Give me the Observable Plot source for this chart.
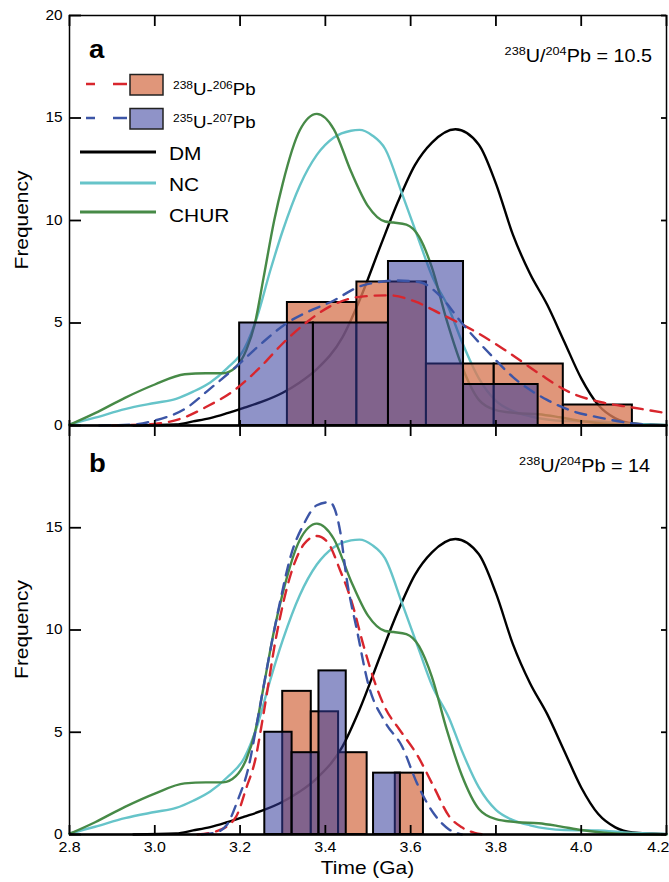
<!DOCTYPE html>
<html><head><meta charset="utf-8">
<script src="https://cdn.jsdelivr.net/npm/d3@7"></script>
<script src="https://cdn.jsdelivr.net/npm/@observablehq/plot@0.6"></script>
<style>
body{margin:0;background:#fff;}
#chart svg{display:block;}
</style></head><body><div id="chart"></div>
<script>
// ---------- data ----------
const xTicks = [2.8, 3.0, 3.2, 3.4, 3.6, 3.8, 4.0, 4.2];
const yTicksA = [0, 5, 10, 15, 20];
const yTicksB = [0, 5, 10, 15];

// model curves (identical in both panels)
const dmTime = [2.95, 3.05, 3.09, 3.13, 3.17, 3.21, 3.25, 3.30, 3.34, 3.38, 3.44, 3.48, 3.53, 3.57, 3.61, 3.65, 3.705, 3.76, 3.80, 3.84, 3.88, 3.92, 3.96, 4.00, 4.04, 4.08, 4.12, 4.20];
const dmFreq = [0, 0.05, 0.2, 0.36, 0.6, 0.87, 1.15, 1.6, 2.1, 2.75, 4.3, 6.1, 8.8, 10.9, 12.7, 13.8, 14.45, 13.7, 11.8, 9.3, 7.4, 5.9, 4.1, 2.3, 1.0, 0.35, 0.1, 0.02];

const ncTime = [2.80, 2.86, 2.93, 3.00, 3.05, 3.09, 3.13, 3.17, 3.21, 3.24, 3.27, 3.30, 3.34, 3.38, 3.42, 3.46, 3.48, 3.51, 3.54, 3.58, 3.62, 3.65, 3.69, 3.72, 3.76, 3.80, 3.84, 3.88, 3.96, 4.04, 4.10, 4.20];
const ncFreq = [0.05, 0.38, 0.8, 1.1, 1.3, 1.65, 2.1, 2.8, 3.75, 5.3, 7.5, 9.5, 11.7, 13.2, 14.05, 14.38, 14.42, 14.15, 13.5, 11.3, 9.0, 7.3, 5.7, 4.1, 2.3, 1.2, 0.7, 0.45, 0.22, 0.2, 0.1, 0.03];

const churTime = [2.80, 2.86, 2.93, 3.00, 3.07, 3.12, 3.16, 3.19, 3.215, 3.235, 3.255, 3.28, 3.30, 3.34, 3.38, 3.42, 3.46, 3.50, 3.54, 3.56, 3.59, 3.62, 3.65, 3.685, 3.72, 3.76, 3.80, 3.85, 3.90, 3.95, 4.00, 4.08, 4.20];
const churFreq = [0.03, 0.6, 1.35, 2.0, 2.5, 2.55, 2.55, 2.85, 3.7, 5.0, 7.2, 10.0, 11.8, 14.4, 15.2, 14.45, 12.4, 10.7, 9.95, 9.9, 9.8, 9.2, 7.7, 5.1, 2.9, 1.25, 0.75, 0.6, 0.55, 0.4, 0.22, 0.05, 0];

// panel a: 238U/204Pb = 10.5
const u238TimeA = [2.90, 3.00, 3.07, 3.12, 3.185, 3.25, 3.30, 3.36, 3.41, 3.49, 3.55, 3.61, 3.67, 3.75, 3.82, 3.90, 3.97, 4.05, 4.12, 4.20];
const u238FreqA = [0, 0.08, 0.4, 0.9, 1.7, 2.9, 4.0, 5.1, 5.8, 6.3, 6.35, 6.05, 5.45, 4.6, 3.7, 2.55, 1.65, 1.12, 0.88, 0.6];
const u235TimeA = [2.87, 2.95, 3.00, 3.07, 3.13, 3.185, 3.25, 3.31, 3.37, 3.41, 3.49, 3.57, 3.62, 3.67, 3.72, 3.79, 3.84, 3.92, 3.98, 4.04, 4.12, 4.20];
const u235FreqA = [0, 0.05, 0.24, 0.8, 1.8, 2.76, 4.0, 5.0, 5.65, 6.0, 6.85, 7.07, 7.0, 6.3, 5.0, 3.4, 2.36, 1.25, 0.7, 0.4, 0.1, 0];
const u238EdgesA = [3.311, 3.474, 3.637, 3.796, 3.958, 4.120];
const u238CountsA = [6, 7, 3, 3, 1];
const u235EdgesA = [3.199, 3.372, 3.548, 3.724, 3.899];
const u235CountsA = [5, 5, 8, 2];

// panel b: 238U/204Pb = 14
const u238TimeB = [3.10, 3.15, 3.19, 3.215, 3.235, 3.255, 3.285, 3.32, 3.35, 3.38, 3.405, 3.435, 3.46, 3.49, 3.515, 3.54, 3.575, 3.615, 3.655, 3.69, 3.72, 3.75, 3.77];
const u238FreqB = [0, 0.2, 0.85, 2.3, 3.6, 5.9, 9.7, 12.8, 14.2, 14.6, 14.3, 12.9, 11.5, 9.2, 7.5, 6.2, 5.1, 3.9, 2.3, 0.9, 0.35, 0.08, 0];
const u235TimeB = [3.11, 3.15, 3.17, 3.195, 3.22, 3.24, 3.26, 3.29, 3.32, 3.35, 3.38, 3.41, 3.435, 3.45, 3.475, 3.50, 3.54, 3.58, 3.615, 3.655, 3.69, 3.72];
const u235FreqB = [0, 0.15, 0.5, 1.7, 3.3, 5.5, 7.8, 11.0, 13.7, 15.2, 16.1, 16.25, 14.8, 12.5, 9.9, 7.4, 5.5, 4.3, 2.5, 1.0, 0.25, 0];
const u238EdgesB = [3.300, 3.367, 3.431, 3.498, 3.564, 3.630];
const u238CountsB = [7, 6, 4, 0, 3];
const u235EdgesB = [3.258, 3.322, 3.385, 3.449, 3.513, 3.576];
const u235CountsB = [5, 4, 8, 0, 3];

// ---------- styling ----------
const C = {dm: "#000000", nc: "#66C4C9", chur: "#478A47", red: "#D8262D", blue: "#3C55A6",
           orange: "#D87C59", violet: "#333B9B"};
const FONT = '"Liberation Sans", Arial, Helvetica, sans-serif';
const W = 669, ML = 69, MR = 3, FW = W - ML - MR;

const rows = (t, f) => t.map((d, i) => ({t: d, f: f[i]}));
const bins = (e, c) => c.map((v, i) => ({x1: e[i], x2: e[i + 1], y1: 0, y2: v})).filter(d => d.y2 > 0);

function panelMarks(redT, redF, blueT, blueF, oE, oC, bE, bC) {
  const solid = {x: "t", y: "f", strokeWidth: 2.4, curve: "monotone-x"};
  const dashed = {x: "t", y: "f", strokeWidth: 2.4, curve: "monotone-x", strokeDasharray: "11,8"};
  return [
    Plot.line(rows(dmTime, dmFreq), {...solid, stroke: C.dm}),
    Plot.line(rows(ncTime, ncFreq), {...solid, stroke: C.nc}),
    Plot.line(rows(churTime, churFreq), {...solid, stroke: C.chur}),
    Plot.rect(bins(oE, oC), {x1: "x1", x2: "x2", y1: "y1", y2: "y2", fill: C.orange, fillOpacity: 0.8, stroke: "black", strokeWidth: 2}),
    Plot.rect(bins(bE, bC), {x1: "x1", x2: "x2", y1: "y1", y2: "y2", fill: C.violet, fillOpacity: 0.55, stroke: "black", strokeWidth: 2}),
    Plot.line(rows(redT, redF), {...dashed, stroke: C.red}),
    Plot.line(rows(blueT, blueF), {...dashed, stroke: C.blue})
  ];
}

function tickMarks(plotH, yTicks, topLen, botLen, xLabels) {
  const m = [
    Plot.tickY(yTicks, {y: d => d, insetRight: FW - 12, stroke: "black", strokeWidth: 1.8}),
    Plot.tickY(yTicks, {y: d => d, insetLeft: FW - 5, stroke: "black", strokeWidth: 1.8}),
    Plot.tickX(xTicks, {x: d => d, insetBottom: plotH - topLen, stroke: "black", strokeWidth: 1.8}),
    Plot.tickX(xTicks, {x: d => d, insetTop: plotH - botLen, stroke: "black", strokeWidth: 1.8}),
    Plot.text(yTicks, {y: d => d, frameAnchor: "left", dx: -7, textAnchor: "end", text: d => String(d), fontSize: 14, fill: "black"})
  ];
  if (xLabels) {
    const fmt = d3.format(".1f");
    m.push(Plot.text(xTicks.slice(0, -1), {x: d => d, frameAnchor: "bottom", dy: 7, lineAnchor: "top", text: d => fmt(d), fontSize: 14.5, fill: "black"}));
    m.push(Plot.text(xTicks.slice(-1), {x: d => d, frameAnchor: "bottom", dy: 7, dx: 3, textAnchor: "end", lineAnchor: "top", text: d => fmt(d), fontSize: 14.5, fill: "black"}));
  }
  return m;
}

const base = {
  width: W, marginLeft: ML, marginRight: MR,
  x: {domain: [2.8, 4.2], axis: null},
  y: {domain: [0, 20], axis: null},
  style: {fontFamily: FONT, fontSize: "14px", color: "black", background: "white", overflow: "visible"}
};

const plotA = Plot.plot({
  ...base, height: 425, marginTop: 15, marginBottom: 0,
  marks: [
    ...panelMarks(u238TimeA, u238FreqA, u235TimeA, u235FreqA, u238EdgesA, u238CountsA, u235EdgesA, u235CountsA),
    Plot.frame({stroke: "black", strokeWidth: 1.5}),
    Plot.ruleY([0], {stroke: "black", strokeWidth: 2.5}),
    ...tickMarks(410, yTicksA, 11, 5, false)
  ]
});

const plotB = Plot.plot({
  ...base, height: 457, marginTop: 0, marginBottom: 48,
  marks: [
    ...panelMarks(u238TimeB, u238FreqB, u235TimeB, u235FreqB, u238EdgesB, u238CountsB, u235EdgesB, u235CountsB),
    Plot.frame({stroke: "black", strokeWidth: 1.5}),
    Plot.ruleY([0], {stroke: "black", strokeWidth: 2.5}),
    ...tickMarks(409, yTicksB, 11, 9, true)
  ]
});

const holder = document.getElementById("chart");
holder.appendChild(plotA);
holder.appendChild(plotB);

// ---------- annotations ----------
function supText(g, x, y, parts, size, anchor, weight) {
  const t = g.append("text").attr("x", x).attr("y", y).attr("font-size", size)
    .attr("font-family", FONT).attr("text-anchor", anchor || "start").attr("fill", "black");
  if (weight) t.attr("font-weight", weight);
  let up = false;
  const sh = size * 0.38;
  parts.forEach(p => {
    const sup = Array.isArray(p);
    const s = sup ? p[0] : p;
    const ts = t.append("tspan").text(s);
    if (sup) { ts.attr("font-size", size * 0.64); if (!up) { ts.attr("dy", -sh); up = true; } }
    else if (up) { ts.attr("dy", sh); up = false; }
  });
  return t;
}

const gA = d3.select(plotA).append("g");
supText(gA, 89, 58, ["a"], 25, "start", "bold");
supText(gA, 652, 62, [["238"], "U/", ["204"], "Pb = 10.5"], 18, "end");
// legend
gA.append("line").attr("x1", 86).attr("x2", 127).attr("y1", 84).attr("y2", 84)
  .attr("stroke", C.red).attr("stroke-width", 2.6).attr("stroke-dasharray", "9,18,14");
gA.append("rect").attr("x", 130).attr("y", 74.5).attr("width", 33).attr("height", 20.5)
  .attr("fill", C.orange).attr("fill-opacity", 0.8).attr("stroke", "#222").attr("stroke-width", 1.5);
supText(gA, 173, 95, [["238"], "U-", ["206"], "Pb"], 17);
gA.append("line").attr("x1", 86).attr("x2", 127).attr("y1", 118).attr("y2", 118)
  .attr("stroke", C.blue).attr("stroke-width", 2.6).attr("stroke-dasharray", "9,18,14");
gA.append("rect").attr("x", 130).attr("y", 108.5).attr("width", 33).attr("height", 20.5)
  .attr("fill", C.violet).attr("fill-opacity", 0.55).attr("stroke", "#222").attr("stroke-width", 1.5);
supText(gA, 173, 128, [["235"], "U-", ["207"], "Pb"], 17);
[["DM", C.dm, 152, 160], ["NC", C.nc, 183, 191], ["CHUR", C.chur, 212, 222]].forEach(([lab, col, ly, ty]) => {
  gA.append("line").attr("x1", 80).attr("x2", 156).attr("y1", ly).attr("y2", ly)
    .attr("stroke", col).attr("stroke-width", 3);
  supText(gA, 169, ty, [lab], 19);
});
gA.append("text").attr("transform", "translate(28,220) rotate(-90)").attr("text-anchor", "middle")
  .attr("font-family", FONT).attr("font-size", 19).attr("fill", "black").text("Frequency");

const gB = d3.select(plotB).append("g");
const offB = 425;
supText(gB, 89, 472 - offB, ["b"], 25, "start", "bold");
supText(gB, 650, 472 - offB, [["238"], "U/", ["204"], "Pb = 14"], 18, "end");
gB.append("text").attr("transform", `translate(28,${629.5 - offB}) rotate(-90)`).attr("text-anchor", "middle")
  .attr("font-family", FONT).attr("font-size", 19).attr("fill", "black").text("Frequency");
gB.append("text").attr("x", 367.5).attr("y", 874 - offB).attr("text-anchor", "middle")
  .attr("font-family", FONT).attr("font-size", 19).attr("fill", "black").text("Time (Ga)");

// widen glyphs slightly to match the reference lettering
document.querySelectorAll("#chart svg text").forEach(t => {
  const L = t.getComputedTextLength();
  if (L > 0) { t.setAttribute("textLength", (L * 1.1).toFixed(1)); t.setAttribute("lengthAdjust", "spacingAndGlyphs"); }
});
</script>
</body></html>
